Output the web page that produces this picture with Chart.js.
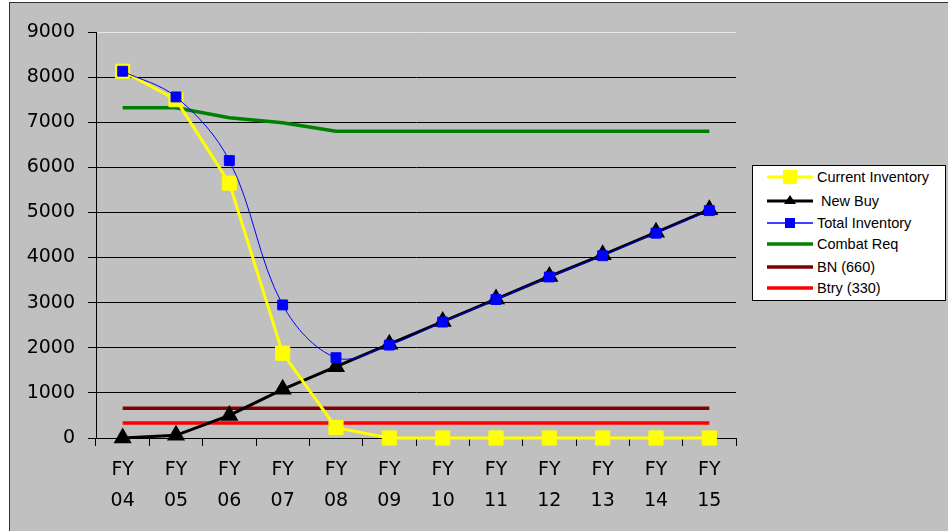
<!DOCTYPE html>
<html>
<head>
<meta charset="utf-8">
<script src="https://cdn.jsdelivr.net/npm/chart.js@4/dist/chart.umd.min.js"></script>
<style>
  html, body { margin: 0; padding: 0; background: #fff; }
  #frame { position: absolute; left: 9px; top: 2px; width: 940px; height: 530px;
           background: #c0c0c0; border-left: 1px solid #333; border-top: 1px solid #333; }
  #wrap { position: absolute; left: 0; top: 0; width: 948px; height: 531px; }
  #legend { position: absolute; left: 752px; top: 165px; width: 192px; height: 134px;
            background: #fff; border: 1px solid #000; font-family: "Liberation Sans", Arial, sans-serif;
            font-size: 14.5px; color: #000; }
  .row { position: absolute; left: 13px; height: 20px; display: flex; align-items: center; }
  .row svg { display: block; }
  .row span { margin-left: 3px; white-space: pre; }
</style>
</head>
<body>
<div id="frame"></div>
<div id="wrap"><canvas id="c" width="948" height="531"></canvas></div>
<div id="legend"></div>
<script>
// Valeurs (unités)
const years = ["04", "05", "06", "07", "08", "09", "10", "11", "12", "13", "14", "15"];
const currentInventory = [8130, 7500, 5650, 1880, 230, 0, 0, 0, 0, 0, 0, 0];
const newBuy = [0, 60, 500, 1080, 1580, 2080, 2580, 3080, 3580, 4060, 4560, 5060];
const totalInventory = [8130, 7560, 6150, 2950, 1780, 2060, 2570, 3070, 3570, 4040, 4540, 5040];
const combatReq = [7320, 7320, 7100, 6990, 6800, 6800, 6800, 6800, 6800, 6800, 6800, 6800];
const bnReq = [660, 660, 660, 660, 660, 660, 660, 660, 660, 660, 660, 660];
const btryReq = [330, 330, 330, 330, 330, 330, 330, 330, 330, 330, 330, 330];
const yTicks = [0, 1000, 2000, 3000, 4000, 5000, 6000, 7000, 8000, 9000];

const FONT = { family: "'DejaVu Sans', sans-serif", size: 19 };

const datasets = [
  { label: "Current Inventory", data: currentInventory, borderColor: "#ffff00", backgroundColor: "#ffff00",
    borderWidth: 3, pointStyle: "rect", pointRadius: 10, pointBorderWidth: 1, order: 1, tension: 0 },
  { label: " New Buy", data: newBuy, borderColor: "#000000", backgroundColor: "#000000",
    borderWidth: 3, pointStyle: "triangle", pointRadius: 7.5, order: 2, tension: 0 },
  { label: "Total Inventory", data: totalInventory, borderColor: "#0000ff", backgroundColor: "#0000ff",
    borderWidth: 1, pointStyle: "rect", pointRadius: 7, order: 0, tension: 0.35 },
  { label: "Combat Req", data: combatReq, borderColor: "#008000", backgroundColor: "#008000",
    borderWidth: 3.5, pointRadius: 0, order: 5, tension: 0 },
  { label: "BN (660)", data: bnReq, borderColor: "#800000", backgroundColor: "#800000",
    borderWidth: 3.5, pointRadius: 0, order: 4, tension: 0 },
  { label: "Btry (330)", data: btryReq, borderColor: "#ff0000", backgroundColor: "#ff0000",
    borderWidth: 3.5, pointRadius: 0, order: 3, tension: 0 },
];
datasets.forEach(d => { d.clip = false; d.fill = false; });

new Chart(document.getElementById("c"), {
  type: "line",
  data: { labels: years.map(y => ["FY", y]), datasets },
  options: {
    responsive: false,
    animation: false,
    layout: { padding: { left: 0, right: 212, top: 32, bottom: 0 } },
    plugins: { legend: { display: false }, tooltip: { enabled: false } },
    scales: {
      x: {
        offset: true,
        grid: { offset: true, drawOnChartArea: false, color: "#000", tickLength: 8 },
        border: { color: "#000", width: 1 },
        ticks: { color: "#000", font: { ...FONT, lineHeight: 1.6 }, padding: 9, maxRotation: 0, autoSkip: false },
        afterFit: s => { s.height = 93; },
      },
      y: {
        min: 0, max: 9000,
        afterBuildTicks: s => { s.ticks = yTicks.map(v => ({ value: v })); },
        grid: { color: c => (c.tick && c.tick.value === 9000 ? "#e8e8e8" : "#000"), tickColor: "#000", tickLength: 8, lineWidth: 1 },
        border: { color: "#000", width: 1 },
        ticks: { color: "#000", font: FONT, padding: 13, callback: v => String(v) },
        afterFit: s => { s.width = 96; },
      },
    },
  },
});

// Légende HTML dans un cadre blanc
const legend = document.getElementById("legend");
const rowTops = [1, 25, 47, 68, 91, 112];
datasets.forEach((d, i) => {
  const row = document.createElement("div");
  row.className = "row";
  row.style.top = rowTops[i] + "px";
  let marker = "";
  if (d.pointRadius && d.pointStyle === "rect") {
    const s = Math.round(d.pointRadius * Math.SQRT2);
    marker = `<rect x="${24 - s / 2}" y="${10 - s / 2}" width="${s}" height="${s}" fill="${d.backgroundColor}"/>`;
  } else if (d.pointRadius && d.pointStyle === "triangle") {
    marker = `<polygon points="24,4 30,13 18,13" fill="${d.backgroundColor}"/>`;
  }
  row.innerHTML = `<svg width="48" height="20"><line x1="1" y1="10" x2="47" y2="10" stroke="${d.borderColor}" stroke-width="${Math.max(d.borderWidth, 1.5)}"/>${marker}</svg><span>${d.label}</span>`;
  legend.appendChild(row);
});
</script>
</body>
</html>
